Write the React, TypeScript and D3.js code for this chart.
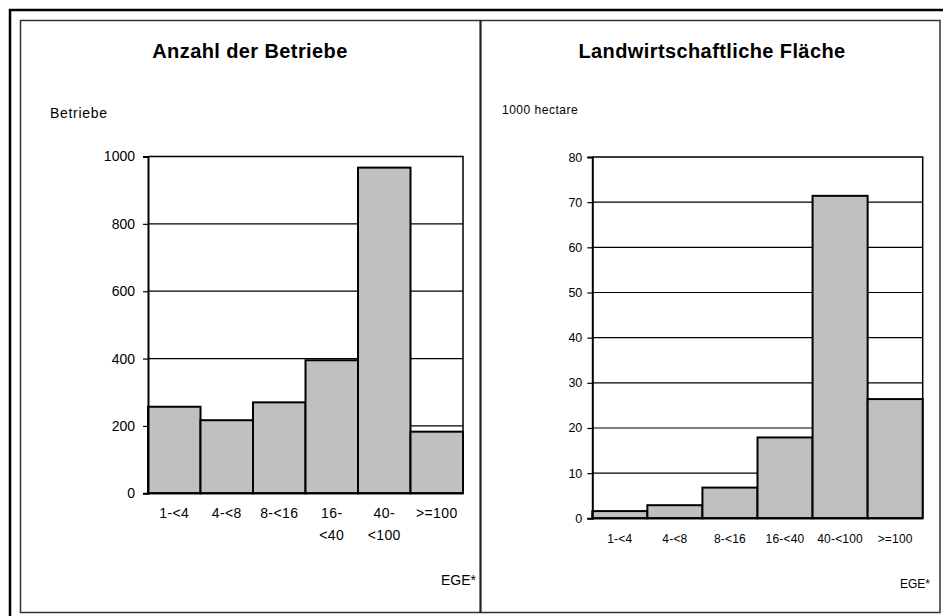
import React, { useRef, useEffect } from "react";
import * as d3 from "d3";

// size classes (EGE), left panel wraps the longer labels
const classesLeft: string[][] = [["1-<4"], ["4-<8"], ["8-<16"], ["16-", "<40"], ["40-", "<100"], [">=100"]];
const classesRight: string[] = ["1-<4", "4-<8", "8-<16", "16-<40", "40-<100", ">=100"];

const betriebe: number[] = [257, 217, 270, 395, 967, 183];
const flaeche: number[] = [1.6, 2.9, 6.8, 17.9, 71.4, 26.4];

const ticksBetriebe: number[] = [0, 200, 400, 600, 800, 1000];
const ticksFlaeche: number[] = [0, 10, 20, 30, 40, 50, 60, 70, 80];

const FONT = "'Liberation Sans', Arial, sans-serif";

type PanelOpts = {
  title: string;
  titleX: number;
  unit: string;
  unitX: number;
  unitY: number;
  unitSize: number;
  unitSpacing: number;
  labels: string[][];
  values: number[];
  ticks: number[];
  x0: number;
  x1: number;
  yTop: number;
  yBottom: number;
  tickSize: number;
  tickPad: number;
  labelY: number;
  labelSize: number;
  labelSpacing: number;
  egeSize: number;
  egeX: number;
  egeY: number;
};

function drawPanel(svg: d3.Selection<SVGSVGElement, unknown, null, undefined>, o: PanelOpts) {
  const g = svg.append("g").style("font-family", FONT);

  const x = d3
    .scaleBand<number>()
    .domain(o.values.map((_, i) => i))
    .range([o.x0, o.x1])
    .padding(0);

  const y = d3
    .scaleLinear()
    .domain([0, o.ticks[o.ticks.length - 1]])
    .range([o.yBottom, o.yTop]);

  // title
  g.append("text")
    .attr("x", o.titleX)
    .attr("y", 58)
    .attr("text-anchor", "middle")
    .style("font-size", "20px")
    .style("font-weight", "bold")
    .style("letter-spacing", "0.4px")
    .text(o.title);

  // unit label
  g.append("text")
    .attr("x", o.unitX)
    .attr("y", o.unitY)
    .style("font-size", `${o.unitSize}px`)
    .style("letter-spacing", `${o.unitSpacing}px`)
    .text(o.unit);

  // gridlines
  g.append("g")
    .selectAll("line")
    .data(o.ticks.slice(1, -1))
    .join("line")
    .attr("x1", o.x0)
    .attr("x2", o.x1)
    .attr("y1", (d) => y(d))
    .attr("y2", (d) => y(d))
    .attr("stroke", "#000")
    .attr("stroke-width", 1.2);

  // plot frame (top + right)
  g.append("path")
    .attr("d", `M${o.x0},${y(o.ticks[o.ticks.length - 1])}H${o.x1}V${o.yBottom}`)
    .attr("fill", "none")
    .attr("stroke", "#000")
    .attr("stroke-width", 1.5);

  // bars
  g.append("g")
    .selectAll("rect")
    .data(o.values)
    .join("rect")
    .attr("x", (_, i) => x(i)!)
    .attr("y", (d) => y(d))
    .attr("width", x.bandwidth())
    .attr("height", (d) => y(0) - y(d))
    .attr("fill", "#c0c0c0")
    .attr("stroke", "#000")
    .attr("stroke-width", 2);

  // y axis
  const yAxis = g
    .append("g")
    .attr("transform", `translate(${o.x0},0)`)
    .call(
      d3
        .axisLeft(y)
        .tickValues(o.ticks)
        .tickFormat(d3.format("d"))
        .tickSize(5)
        .tickPadding(o.tickPad)
    );
  yAxis.select(".domain").attr("stroke-width", 2);
  yAxis.selectAll(".tick line").attr("stroke-width", 1.2);
  yAxis
    .selectAll(".tick text")
    .style("font-size", `${o.tickSize}px`)
    .style("font-family", FONT)
    .attr("fill", "#000");

  // x axis line
  g.append("line")
    .attr("x1", o.x0)
    .attr("x2", o.x1)
    .attr("y1", y(0))
    .attr("y2", y(0))
    .attr("stroke", "#000")
    .attr("stroke-width", 2);

  // x labels
  const lab = g
    .append("g")
    .selectAll("text")
    .data(o.labels)
    .join("text")
    .attr("x", (_, i) => x(i)! + x.bandwidth() / 2)
    .attr("y", o.labelY)
    .attr("text-anchor", "middle")
    .style("font-size", `${o.labelSize}px`)
    .style("letter-spacing", `${o.labelSpacing}px`);
  lab
    .selectAll("tspan")
    .data((d) => d)
    .join("tspan")
    .attr("x", function () {
      return (this.parentNode as SVGTextElement).getAttribute("x");
    })
    .attr("dy", (_, i) => (i === 0 ? 0 : 22))
    .text((d) => d);

  g.append("text")
    .attr("x", o.egeX)
    .attr("y", o.egeY)
    .attr("text-anchor", "end")
    .style("font-size", `${o.egeSize}px`)
    .text("EGE*");
}

const App: React.FC = () => {
  const ref = useRef<SVGSVGElement | null>(null);

  useEffect(() => {
    if (!ref.current) return;
    const svg = d3.select(ref.current);
    svg.selectAll("*").remove();

    // background
    svg.append("rect").attr("width", 943).attr("height", 616).attr("fill", "#fff");

    // outer thick frame (continues past the picture edge)
    svg
      .append("path")
      .attr("d", "M10,616V10H943")
      .attr("fill", "none")
      .attr("stroke", "#000")
      .attr("stroke-width", 2.5);

    // inner frame and divider
    svg
      .append("rect")
      .attr("x", 20.5)
      .attr("y", 20.5)
      .attr("width", 919.5)
      .attr("height", 592)
      .attr("fill", "none")
      .attr("stroke", "#333")
      .attr("stroke-width", 1.5);
    svg
      .append("line")
      .attr("x1", 480.5)
      .attr("x2", 480.5)
      .attr("y1", 20)
      .attr("y2", 613)
      .attr("stroke", "#222")
      .attr("stroke-width", 2.2);

    drawPanel(svg, {
      title: "Anzahl der Betriebe",
      titleX: 250,
      unit: "Betriebe",
      unitX: 50,
      unitY: 118,
      unitSize: 14,
      unitSpacing: 0.7,
      labels: classesLeft,
      values: betriebe,
      ticks: ticksBetriebe,
      x0: 148,
      x1: 463,
      yTop: 156.5,
      yBottom: 493.3,
      tickSize: 14,
      tickPad: 8,
      labelY: 518,
      labelSize: 14,
      labelSpacing: 0.4,
      egeSize: 14,
      egeX: 476,
      egeY: 585,
    });

    drawPanel(svg, {
      title: "Landwirtschaftliche Fläche",
      titleX: 712,
      unit: "1000 hectare",
      unitX: 502,
      unitY: 114,
      unitSize: 12,
      unitSpacing: 0.5,
      labels: classesRight.map((c) => [c]),
      values: flaeche,
      ticks: ticksFlaeche,
      x0: 592.3,
      x1: 922.7,
      yTop: 157,
      yBottom: 518.3,
      tickSize: 12.5,
      tickPad: 5,
      labelY: 543,
      labelSize: 12,
      labelSpacing: 0.2,
      egeSize: 12,
      egeX: 930,
      egeY: 588,
    });
  }, []);

  return (
    <div style={{ position: "fixed", left: 0, top: 0 }}>
      <svg ref={ref} width={943} height={616} style={{ display: "block" }} />
    </div>
  );
};

export default App;
